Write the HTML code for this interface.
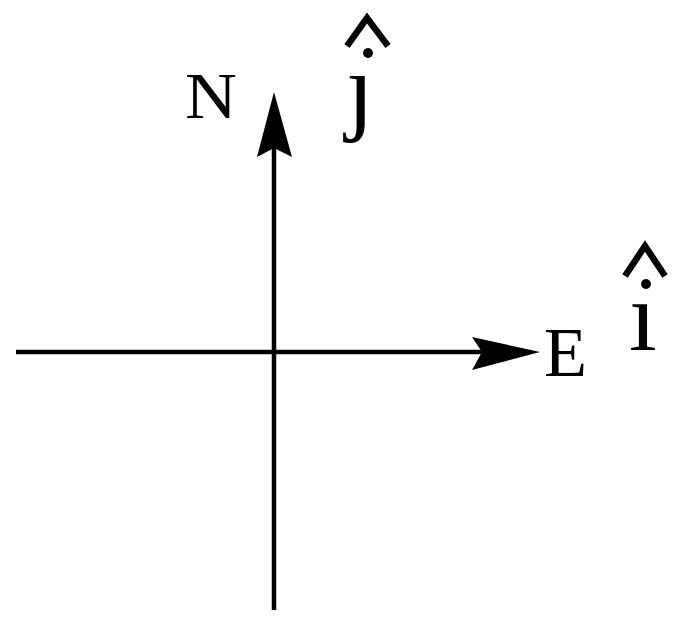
<!DOCTYPE html>
<html><head><style>body{margin:0;background:#fff}svg{display:block}</style></head>
<body>
<svg width="685" height="629" viewBox="0 0 685 629" xmlns="http://www.w3.org/2000/svg">
<g stroke="#000" stroke-width="4.5" fill="none">
<line x1="274" y1="140" x2="274" y2="610"/>
<line x1="16" y1="352" x2="490" y2="352"/>
<polyline points="347,46 367,18 388,46" stroke-width="6.5"/>
<polyline points="625,276 645,246 665,276" stroke-width="6.5"/>
</g>
<polygon points="274,92 292,157 274,148 257,157" fill="#000"/>
<polygon points="540,352 472,337 482,352 472,370" fill="#000"/>
<circle cx="368" cy="53" r="5" fill="#000"/>
<circle cx="646" cy="284" r="5" fill="#000"/>
<g font-family="'Liberation Serif', serif" fill="#000">
<text x="185" y="118" font-size="66" textLength="52" lengthAdjust="spacingAndGlyphs">N</text>
<text x="544" y="376" font-size="70" textLength="43" lengthAdjust="spacingAndGlyphs">E</text>
<text x="346" y="122" font-size="100">ȷ</text>
<text x="629" y="350" font-size="100">ı</text>
</g>
</svg>
</body></html>
